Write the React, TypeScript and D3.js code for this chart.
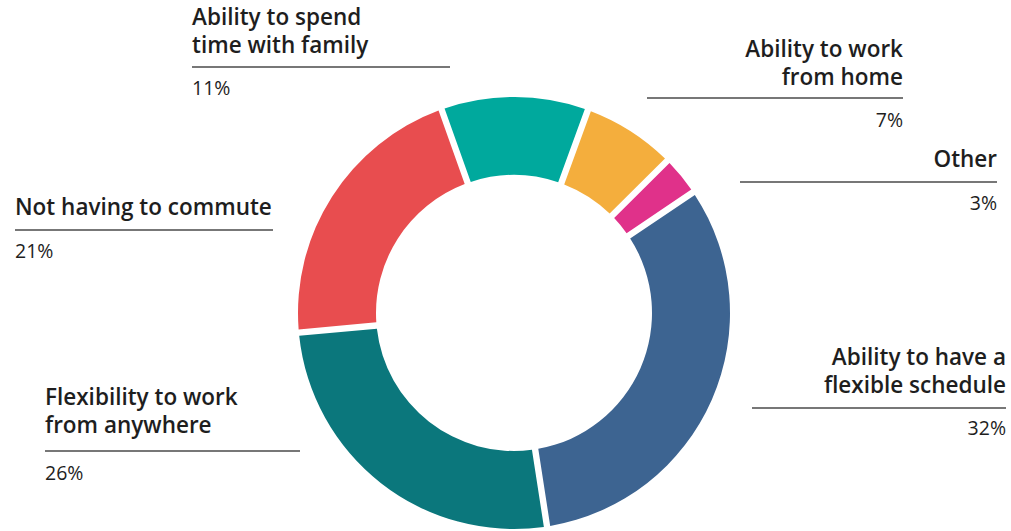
import React from "react";
import * as d3 from "d3";

const categories = [
  "Ability to work from home",
  "Other",
  "Ability to have a flexible schedule",
  "Flexibility to work from anywhere",
  "Not having to commute",
  "Ability to spend time with family",
];
const values = [7, 3, 32, 26, 21, 11];
const colors = ["#F4AE3D", "#E0318A", "#3D6491", "#0B777C", "#E84D4F", "#00A99D"];

// label layout (lines of title, anchor side, position)
const labelLayout = [
  { lines: ["Ability to work", "from home"], anchor: "end", x: 903, y: 57, lineX1: 647, lineX2: 903, lineY: 98, pctY: 127 },
  { lines: ["Other"], anchor: "end", x: 997, y: 167, lineX1: 740, lineX2: 997, lineY: 182, pctY: 210 },
  { lines: ["Ability to have a", "flexible schedule"], anchor: "end", x: 1006, y: 365, lineX1: 752, lineX2: 1006, lineY: 408, pctY: 435 },
  { lines: ["Flexibility to work", "from anywhere"], anchor: "start", x: 45, y: 405, lineX1: 45, lineX2: 300, lineY: 451, pctY: 480 },
  { lines: ["Not having to commute"], anchor: "start", x: 15, y: 215, lineX1: 15, lineX2: 273, lineY: 230, pctY: 258 },
  { lines: ["Ability to spend", "time with family"], anchor: "start", x: 192, y: 25, lineX1: 192, lineX2: 450, lineY: 67, pctY: 95 },
];

const W = 1011;
const H = 531;
const cx = 514;
const cy = 313;
const outerR = 216;
const innerR = 138;

export default function App() {
  const pie = d3
    .pie<number>()
    .sort(null)
    .value((d) => d)
    .startAngle((20 * Math.PI) / 180)
    .endAngle((380 * Math.PI) / 180);
  const arcs = pie(values);
  const arc = d3
    .arc<d3.PieArcDatum<number>>()
    .innerRadius(innerR)
    .outerRadius(outerR)
    .padAngle(0.025)
    .padRadius(256);

  const font = "'Open Sans', Lato, sans-serif";
  return (
    <svg
      width={W}
      height={H}
      style={{ position: "absolute", left: 0, top: 0, background: "#fff" }}
    >
      <g transform={`translate(${cx},${cy})`}>
        {arcs.map((a, i) => (
          <path key={categories[i]} d={arc(a) || ""} fill={colors[i]} />
        ))}
      </g>
      {labelLayout.map((l, i) => (
        <g key={"lab" + i} fontFamily={font} fill="#1e1e1e">
          {l.lines.map((t, j) => (
            <text
              key={j}
              x={l.x}
              y={l.y + j * 28}
              textAnchor={l.anchor}
              fontSize={22.5}
              fontWeight={600}
            >
              {t}
            </text>
          ))}
          <line
            x1={l.lineX1}
            x2={l.lineX2}
            y1={l.lineY}
            y2={l.lineY}
            stroke="#4a4a4a"
            strokeWidth={1.5}
          />
          <text
            x={l.x}
            y={l.pctY}
            textAnchor={l.anchor}
            fontSize={19.5}
            fontWeight={400}
          >
            {values[i]}%
          </text>
        </g>
      ))}
    </svg>
  );
}
